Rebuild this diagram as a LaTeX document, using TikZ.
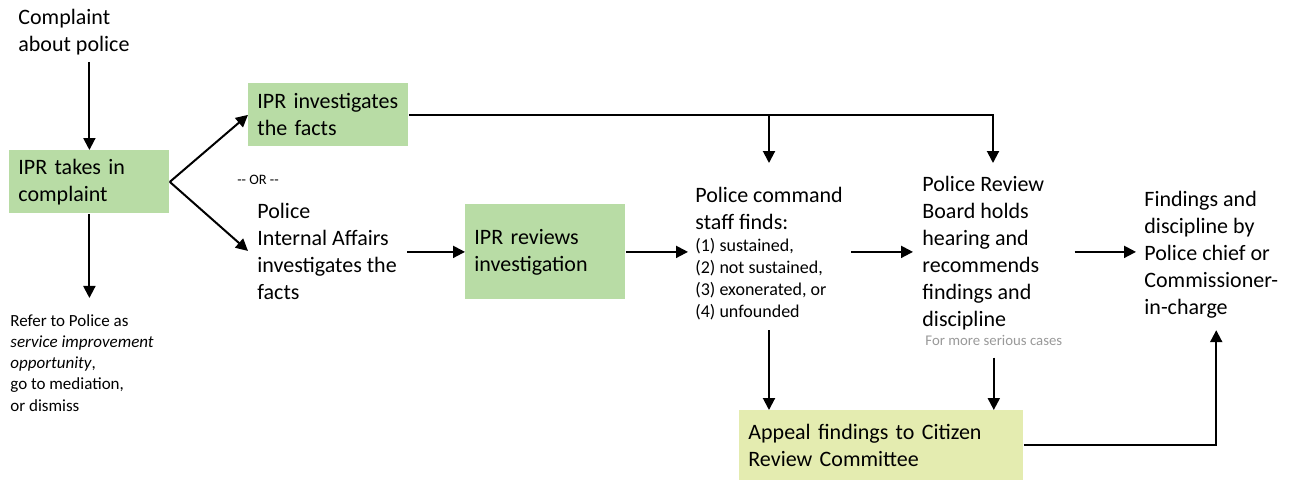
\documentclass[tikz,border=0pt]{standalone}
\usepackage{fontspec}
\setmainfont{Carlito}
\usetikzlibrary{arrows.meta}
\definecolor{ipgreen}{HTML}{B8DCA5}
\definecolor{cclime}{HTML}{E4ECB0}
\def\bodyfont{\fontsize{11}{13.5}\selectfont}
\def\listfont{\fontsize{9}{11}\selectfont}
\def\notefont{\fontsize{8.5}{10.6}\selectfont}
\tikzset{
	flow/.style={line width=1pt, -{Triangle[length=6pt,width=6pt]}},
	txt/.style={anchor=base west, inner sep=0pt, align=left, font=\bodyfont},
	greenbox/.style={anchor=north west, fill=ipgreen, inner xsep=4.5pt, inner ysep=0pt,
		text width=71pt, minimum height=31.5pt, align=left, font=\bodyfont},
}

\begin{document}
\begin{tikzpicture}[x=0.5pt, y=-0.5pt]
		%%%%% START %%%%%
		\useasboundingbox (0, 0) rectangle (1289, 481);
		
		% text nodes sit on the baseline of their last line
		\node[txt] (complaint) at (18, 52) {Complaint\\about police};
		\node[greenbox] (takesin) at (9, 150) {IPR takes in\\complaint};
		\node[txt, font=\notefont] (refer) at (10, 411) {Refer to Police as\\\textit{service improvement}\\\textit{opportunity},\\go to mediation,\\or dismiss};
		
		\draw[flow] ([yshift=-3pt]complaint.south -| takesin.north) -- (takesin.north);
		\draw[flow] (takesin.south) -- ([yshift=8pt]takesin.south |- refer.north);
		
		\node[greenbox] (invest) at (248, 83) {IPR investigates\\the facts};
		\node[font=\fontsize{7.2}{8.5}\selectfont, inner sep=0pt] (ornote) at (258, 180) {-{}- OR -{}-};
		\node[txt] (ia) at (257, 299) {Police\\Internal Affairs\\investigates the\\facts};
		\node[greenbox, minimum height=47.5pt] (reviews) at (465, 204) {IPR reviews\\investigation};
		
		\draw[flow] (takesin.east) -- (invest.west);
		\draw[flow] (takesin.east) -- ([xshift=-4.5pt]ia.west);
		\draw[flow] ([xshift=5pt]reviews.west -| ia.east) -- (reviews.west);
		
		\node[txt] (cmd) at (695, 229) {Police command\\staff finds:};
		\node[txt, font=\listfont] (cmdlist) at (695, 317) {(1) sustained,\\(2) not sustained,\\(3) exonerated, or\\(4) unfounded};
		\node[txt] (prb) at (922, 326) {Police Review\\Board holds\\hearing and\\recommends\\findings and\\discipline};
		\node[txt, font=\fontsize{7.4}{9}\selectfont, text=black!40] (serious) at (925, 345) {For more serious cases};
		\node[txt] (findings) at (1144, 314) {Findings and\\discipline by\\Police chief or\\Commissioner-\\in-charge};
		\node[greenbox, fill=cclime, text width=133pt, minimum height=35pt] (appeal) at (739, 410) {Appeal findings to Citizen\\Review Committee};
		
		\coordinate (cmdin) at (769, 163);
		\coordinate (prbin) at (993, 163);
		\coordinate (cmdout) at (769, 330);
		
		\draw[flow] (invest.east) -| (prbin);
		\draw[flow] (invest.east -| cmdin) -- (cmdin);
		\draw[flow] (reviews.east) -- ([xshift=-3.5pt]reviews.east -| cmdlist.west);
		\draw[flow] ([xshift=4pt]cmd.east |- reviews.east) -- ([xshift=-4.5pt]prb.west |- reviews.east);
		\draw[flow] ([xshift=15pt]prb.east |- reviews.east) -- ([xshift=-4pt]findings.west |- reviews.east);
		
		\draw[flow] (cmdout) -- (cmdout |- appeal.north);
		\draw[flow] ([yshift=-6pt]serious.south) -- (serious.south |- appeal.north);
		\draw[flow] (appeal.east) -| ([xshift=2.5pt, yshift=-6pt]findings.south);
		%%%%% END %%%%%
	\end{tikzpicture}
\end{document}
